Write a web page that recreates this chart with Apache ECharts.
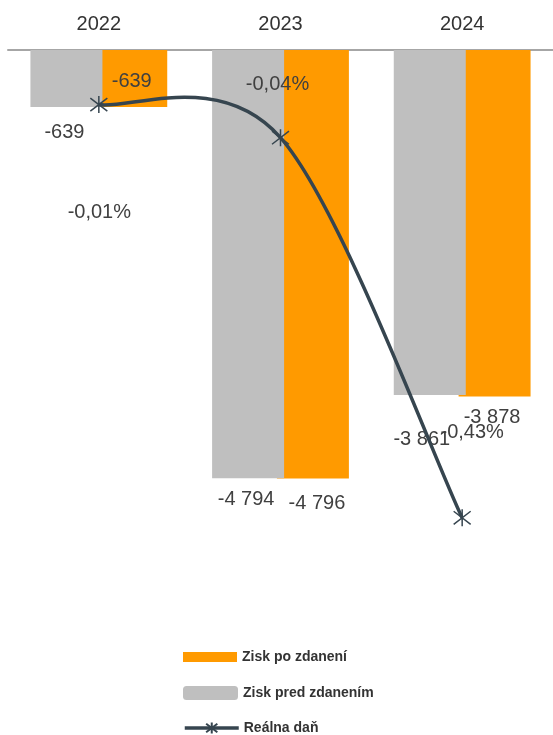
<!DOCTYPE html>
<html>
<head>
<meta charset="utf-8">
<style>html,body{margin:0;padding:0;background:#fff}#c{width:553px;height:735px}</style>
<script src="https://cdn.jsdelivr.net/npm/echarts@6/dist/echarts.min.js"></script>
</head>
<body>
<div id="c"></div>
<script>
var categories = ['2022', '2023', '2024'];
var ziskPred = [-639, -4794, -3861];
var ziskPo = [-639, -4796, -3878];
var realnaDan = [-0.006, -0.04, -0.43];

// label offsets (styling only)
var predOffsets = [[-2, 10], [-2, 6], [-8, 30]];
var poOffsets = [[0.5, -41], [4, 9.6], [-2.5, 5.6]];
var danOffsets = [[0.5, 132], [-3, -29], [10, -61]];

var LINE = '#36454f';
var FONT = 'Liberation Sans, Arial, sans-serif';
function fmtNum(v) {
  var s = Math.abs(Math.round(v)).toString().replace(/\B(?=(\d{3})+(?!\d))/g, ' ');
  return (v < 0 ? '-' : '') + s;
}
var txt = {color: '#404040', fontSize: 20, fontFamily: FONT};
var legText = {color: '#333', fontSize: 14, fontWeight: 'bold', fontFamily: 'Liberation Sans, Arial, sans-serif'};
var star = 'path://M0,0L10,10M10,0L0,10M5,-1.5L5,11.5';

var chart = echarts.init(document.getElementById('c'));
chart.setOption({
  animation: false,
  grid: {left: 8, right: -3, top: 50, bottom: 149},
  legend: [
    {left: 178, top: 645, itemWidth: 54, itemHeight: 10, icon: 'rect', data: ['Zisk po zdanení'], textStyle: legText},
    {left: 178, top: 681, itemWidth: 55, itemHeight: 14, icon: 'roundRect', data: ['Zisk pred zdanením'], textStyle: legText},
    {left: 178, top: 716, itemWidth: 54, itemHeight: 14, data: ['Reálna daň'], textStyle: legText,
     lineStyle: {color: LINE, width: 3.5, opacity: 1}}
  ],
  xAxis: {
    type: 'category', position: 'top', data: categories,
    axisLine: {lineStyle: {color: '#a6a6a6', width: 2}},
    axisTick: {show: false},
    axisLabel: {margin: 16, fontSize: 20, color: '#333', fontFamily: FONT}
  },
  yAxis: [
    {type: 'value', min: -6000, max: 0, show: false, splitLine: {show: false}},
    {type: 'value', min: -0.5, max: 0.05, show: false, splitLine: {show: false}}
  ],
  series: [
    {
      name: 'Zisk pred zdanením', type: 'bar', barWidth: 72, barGap: '-10%', z: 3,
      itemStyle: {color: '#bfbfbf'},
      data: ziskPred.map(function (v, i) { return {value: v, label: {offset: predOffsets[i]}}; }),
      label: Object.assign({show: true, position: 'bottom', formatter: function (p) { return fmtNum(p.value); }}, txt)
    },
    {
      name: 'Zisk po zdanení', type: 'bar', barWidth: 72, barGap: '-10%', z: 2,
      itemStyle: {color: '#ff9a00'},
      data: ziskPo.map(function (v, i) { return {value: v, label: {offset: poOffsets[i]}}; }),
      label: Object.assign({show: true, position: 'bottom', formatter: function (p) { return fmtNum(p.value); }}, txt)
    },
    {
      name: 'curve', type: 'custom', yAxisIndex: 1, z: 4, silent: true,
      data: realnaDan.map(function (v, i) { return [i, v]; }),
      encode: {x: 0, y: 1},
      renderItem: function (params, api) {
        if (params.dataIndex !== 0) return null;
        var p = realnaDan.map(function (v, i) { return api.coord([i, v]); });
        var d = 'M' + p[0][0] + ',' + p[0][1];
        for (var i = 0; i < p.length - 1; i++) {
          var a = p[i - 1] || p[i], b = p[i], c = p[i + 1], e = p[i + 2] || p[i + 1];
          var c1 = [b[0] + (c[0] - a[0]) / 6, b[1] + (c[1] - a[1]) / 6];
          var c2 = [c[0] - (e[0] - b[0]) / 6, c[1] - (e[1] - b[1]) / 6];
          d += 'C' + c1[0] + ',' + c1[1] + ',' + c2[0] + ',' + c2[1] + ',' + c[0] + ',' + c[1];
        }
        return {type: 'path', shape: {pathData: d}, style: {stroke: LINE, lineWidth: 3.5, fill: null}};
      }
    },
    {
      name: 'Reálna daň', type: 'line', yAxisIndex: 1, z: 5,
      symbol: star, symbolSize: 17,
      lineStyle: {color: LINE, width: 3.5, opacity: 0},
      itemStyle: {color: LINE, borderColor: LINE, borderWidth: 1.5},
      data: realnaDan.map(function (v, i) { return {value: v, label: {offset: danOffsets[i]}}; }),
      label: Object.assign({show: true, position: 'top', formatter: function (p) { return p.value.toFixed(2).replace('.', ',') + '%'; }}, txt)
    }
  ]
});
</script>
</body>
</html>
